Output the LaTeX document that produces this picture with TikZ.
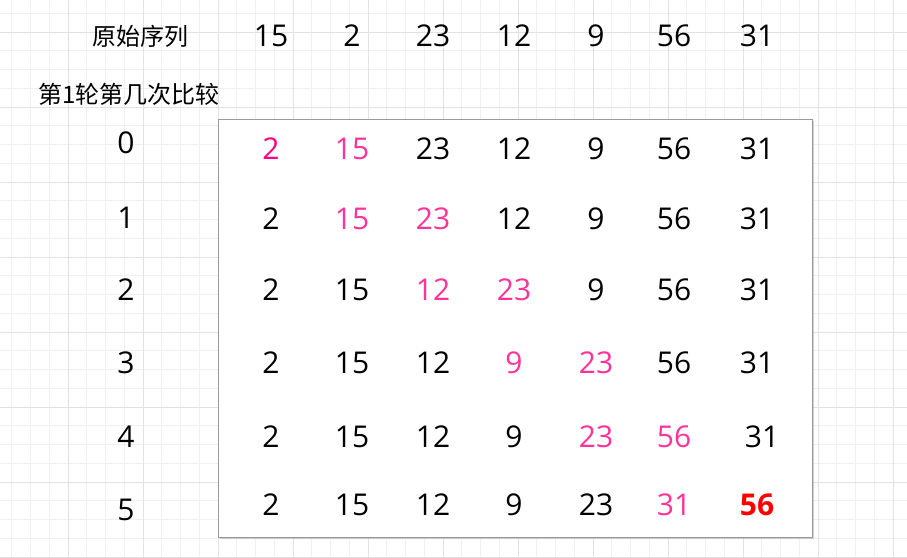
\documentclass[tikz,border=0pt]{standalone}
\usepackage{fontspec}
\setmainfont{Open Sans}
\newfontfamily\cjkfont{Noto Sans CJK SC}
\usetikzlibrary{shadows}
\definecolor{gridminor}{HTML}{F0F0F0}
\definecolor{gridmajor}{HTML}{E2E2E2}
\definecolor{swappink}{HTML}{FF3399}
\definecolor{firstpink}{HTML}{FF0080}
\definecolor{framegray}{HTML}{9A9A9A}
\tikzstyle{num} = [font=\fontsize{30}{36}\selectfont, text=black, inner sep=0pt]
\tikzstyle{swap} = [num, text=swappink]
\tikzstyle{first} = [num, text=firstpink]
\tikzstyle{done} = [num, text=red, font=\fontsize{30}{36}\selectfont\bfseries]
\tikzstyle{late} = [num, xshift=5pt]
\tikzstyle{caption} = [font=\cjkfont\fontsize{24}{28}\selectfont, inner sep=0pt]
\tikzstyle{frame} = [draw=framegray, line width=1pt, fill=white, inner sep=0pt, minimum width=594pt, minimum height=418pt, drop shadow={shadow xshift=1.5pt, shadow yshift=-1.5pt, opacity=0.35}]

\begin{document}
\begin{tikzpicture}[x=1pt, y=-1pt]
    \useasboundingbox (0,0) rectangle (907,557);
    \clip (0,0) rectangle (907,557);
    \fill[white] (0,0) rectangle (907,557);

    \foreach \i in {0,...,47} \draw[gridminor, line width=1pt] (11.75+18.75*\i,0) -- ++(0,557);
    \foreach \i in {0,...,29} \draw[gridminor, line width=1pt] (0,13.25+18.75*\i) -- ++(907,0);
    \foreach \i in {1,...,12} \draw[gridmajor, line width=1pt] (-7+75*\i,0) -- ++(0,557);
    \foreach \i in {0,...,7} \draw[gridmajor, line width=1pt] (0,32+75*\i) -- ++(907,0);

    \node[frame] (frame) at (515,328) {};

    \foreach \x [count=\c] in {271,352,433,514,596,674,757}
        \coordinate (col\c) at (\x,0);

    \coordinate (head) at (0,36);
    \node[caption] (orig) at (140,36) {原始序列};
    \foreach \v [count=\c] in {15,2,23,12,9,56,31}
        \node[num] (head-\c) at (col\c |- head) {\v};

    \node[caption] (round) at (129,94) {第1轮第几次比较};

    \foreach \r/\y/\ly/\cells in {
        0/149/143/{2/first,15/swap,23/num,12/num,9/num,56/num,31/num},
        1/219/218/{2/num,15/swap,23/swap,12/num,9/num,56/num,31/num},
        2/290/290/{2/num,15/num,12/swap,23/swap,9/num,56/num,31/num},
        3/363/363/{2/num,15/num,12/num,9/swap,23/swap,56/num,31/num},
        4/437/437/{2/num,15/num,12/num,9/num,23/swap,56/swap,31/late},
        5/505/510/{2/num,15/num,12/num,9/num,23/num,31/swap,56/done}}{
        \coordinate (row\r) at (0,\y);
        \node[num] (step-\r) at (126,\ly) {\r};
        \foreach \v/\s [count=\c] in \cells
            \node[\s] (cell-\r-\c) at (col\c |- row\r) {\v};
    }
\end{tikzpicture}
\end{document}
